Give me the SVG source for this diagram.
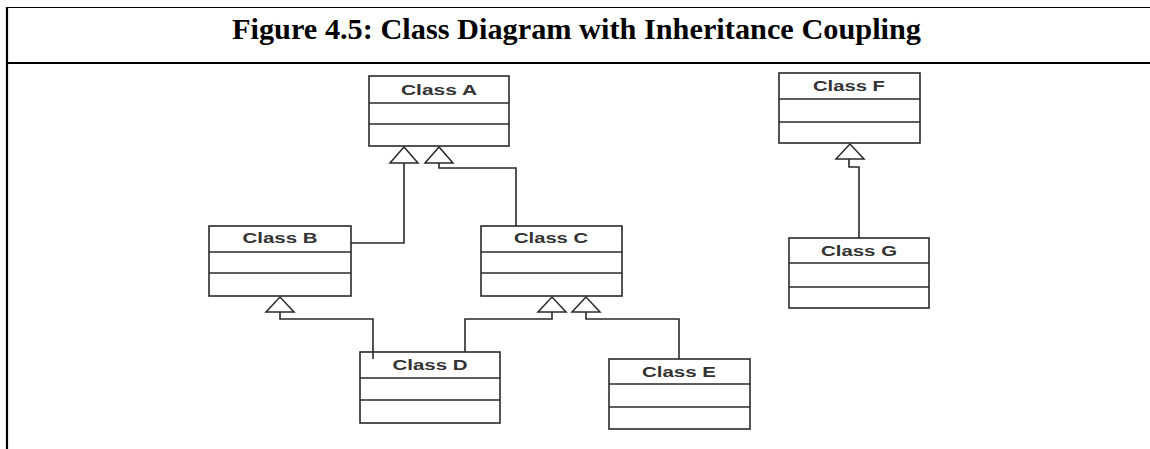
<svg xmlns="http://www.w3.org/2000/svg" width="1150" height="449" viewBox="0 0 1150 449">
  <style>
    .frame { stroke: #000; fill: none; }
    .title { font-family: "Liberation Serif", "Times New Roman", serif; font-weight: bold; font-size: 29px; fill: #000; }
    .box { fill: #fff; stroke: #2a2a2a; stroke-width: 1.6; }
    .sep { stroke: #2a2a2a; stroke-width: 1.6; }
    .label { font-family: "Liberation Sans", Arial, sans-serif; font-weight: bold; font-size: 14.5px; fill: #333; }
    .edge { fill: none; stroke: #2a2a2a; stroke-width: 1.6; }
    .head { fill: #fff; stroke: #2a2a2a; stroke-width: 1.5; stroke-linejoin: miter; }
  </style>

  <rect width="1150" height="449" fill="#fff"/>

  <!-- page frame -->
  <g id="frame">
    <line class="frame" x1="7" y1="7.5" x2="1150" y2="7.5" stroke-width="1.2"/>
    <line class="frame" x1="7" y1="7" x2="7" y2="449" stroke-width="2.2"/>
    <line class="frame" x1="7" y1="63" x2="1150" y2="63" stroke-width="2.2"/>
    <text class="title" x="576.5" y="39" text-anchor="middle" textLength="689" lengthAdjust="spacingAndGlyphs">Figure 4.5: Class Diagram with Inheritance Coupling</text>
  </g>

  <g id="classA">
    <rect class="box" x="369" y="76" width="140" height="70"/>
    <line class="sep" x1="369" y1="103" x2="509" y2="103"/>
    <line class="sep" x1="369" y1="124" x2="509" y2="124"/>
    <text class="label" x="439" y="95" text-anchor="middle" textLength="76" lengthAdjust="spacingAndGlyphs">Class A</text>
  </g>

  <g id="classB">
    <rect class="box" x="209" y="226" width="142" height="70"/>
    <line class="sep" x1="209" y1="252" x2="351" y2="252"/>
    <line class="sep" x1="209" y1="273" x2="351" y2="273"/>
    <text class="label" x="280" y="243" text-anchor="middle" textLength="75" lengthAdjust="spacingAndGlyphs">Class B</text>
  </g>

  <g id="classC">
    <rect class="box" x="481" y="226" width="141" height="70"/>
    <line class="sep" x1="481" y1="252" x2="622" y2="252"/>
    <line class="sep" x1="481" y1="273" x2="622" y2="273"/>
    <text class="label" x="551" y="243" text-anchor="middle" textLength="74" lengthAdjust="spacingAndGlyphs">Class C</text>
  </g>

  <g id="classD">
    <rect class="box" x="360" y="352" width="140" height="71"/>
    <line class="sep" x1="360" y1="378" x2="500" y2="378"/>
    <line class="sep" x1="360" y1="400" x2="500" y2="400"/>
    <text class="label" x="430" y="370" text-anchor="middle" textLength="75" lengthAdjust="spacingAndGlyphs">Class D</text>
  </g>

  <g id="classE">
    <rect class="box" x="609" y="359" width="141" height="70"/>
    <line class="sep" x1="609" y1="384" x2="750" y2="384"/>
    <line class="sep" x1="609" y1="407" x2="750" y2="407"/>
    <text class="label" x="679" y="377" text-anchor="middle" textLength="74" lengthAdjust="spacingAndGlyphs">Class E</text>
  </g>

  <g id="classF">
    <rect class="box" x="779" y="73" width="141" height="70"/>
    <line class="sep" x1="779" y1="99" x2="920" y2="99"/>
    <line class="sep" x1="779" y1="122" x2="920" y2="122"/>
    <text class="label" x="849" y="91" text-anchor="middle" textLength="72" lengthAdjust="spacingAndGlyphs">Class F</text>
  </g>

  <g id="classG">
    <rect class="box" x="789" y="238" width="140" height="70"/>
    <line class="sep" x1="789" y1="263" x2="929" y2="263"/>
    <line class="sep" x1="789" y1="287" x2="929" y2="287"/>
    <text class="label" x="859" y="256" text-anchor="middle" textLength="76" lengthAdjust="spacingAndGlyphs">Class G</text>
  </g>

  <!-- generalisation connectors -->
  <g id="connectors">
    <!-- B -> A -->
    <polyline class="edge" points="351,243 404,243 404,163"/>
    <polygon class="head" points="404,147 390,163 418,163"/>
    <!-- C -> A -->
    <polyline class="edge" points="516,226 516,168 439,168 439,163"/>
    <polygon class="head" points="439,147 425,163 453,163"/>
    <!-- D -> B -->
    <polyline class="edge" points="373,359 373,319 280,319 280,312"/>
    <polygon class="head" points="280,297 266,312 294,312"/>
    <!-- D -> C -->
    <polyline class="edge" points="465,352 465,319 552,319 552,312"/>
    <polygon class="head" points="552,297 538,312 566,312"/>
    <!-- E -> C -->
    <polyline class="edge" points="679,359 679,319 586,319 586,312"/>
    <polygon class="head" points="586,297 572,312 600,312"/>
    <!-- G -> F -->
    <polyline class="edge" points="859,238 859,167 849,167 849,159"/>
    <polygon class="head" points="850,144 836,159 864,159"/>
  </g>
</svg>
